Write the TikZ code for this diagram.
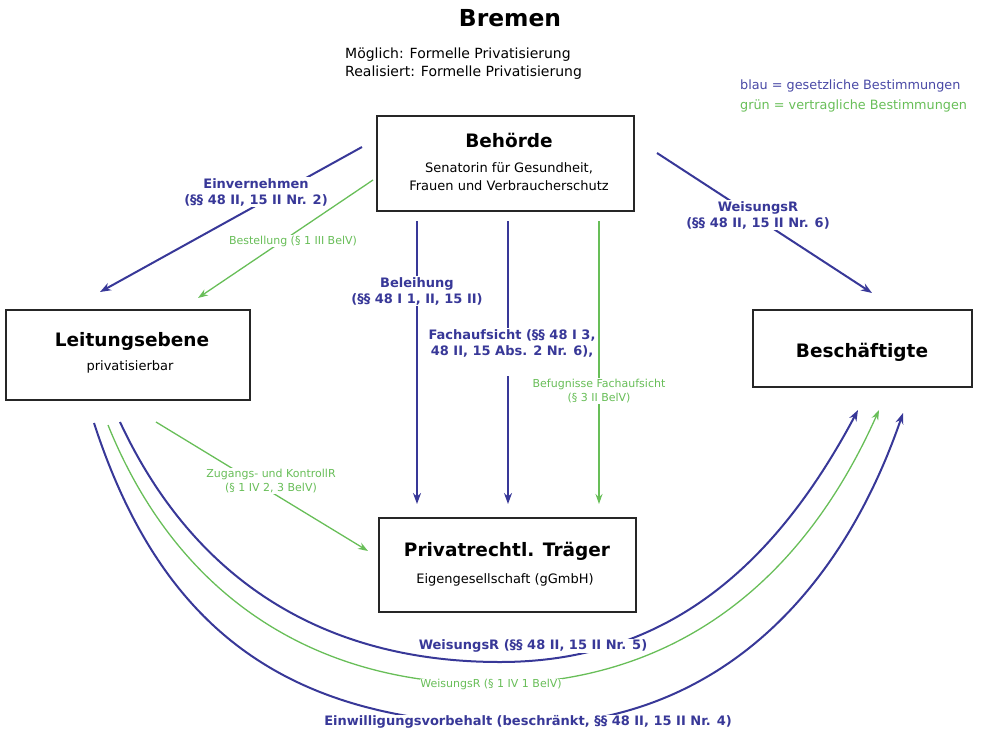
\documentclass[tikz,border=0pt]{standalone}
\usepackage{fontspec}
\setmainfont{DejaVu Sans}
\usetikzlibrary{arrows.meta}
\definecolor{lawblue}{RGB}{56,56,152}
\definecolor{legblue}{RGB}{72,72,165}
\definecolor{contractgreen}{RGB}{104,190,88}
\begin{document}
\begin{tikzpicture}[x=1pt,y=-1pt,
  box/.style={draw=black!85, line width=2pt, fill=white},
  blueline/.style={draw=lawblue, line width=2pt, -{Stealth[length=11pt,width=8pt]}},
  greenline/.style={draw=contractgreen, line width=1.3pt, -{Stealth[length=10pt,width=7pt]}},
  bluelab/.style={text=lawblue, font=\fontsize{13}{16}\selectfont\bfseries, align=center, fill=white, inner sep=1pt},
  greenlab/.style={text=contractgreen, font=\fontsize{11}{14}\selectfont, align=center, fill=white, inner sep=1pt},
  boxtitle/.style={font=\fontsize{18.5}{22}\selectfont\bfseries},
  boxsub/.style={font=\fontsize{13}{18}\selectfont, align=center},
]
\useasboundingbox (0,0) rectangle (992,733);

% title and header
\node[font=\fontsize{23.4}{28}\selectfont\bfseries] (ttl) at (510,18) {Bremen};
\node[anchor=west, font=\fontsize{14}{18}\selectfont, align=left, inner sep=0pt] (hdr) at (345,64)
  {Möglich: Formelle Privatisierung\\Realisiert: Formelle Privatisierung};
\node[anchor=west, font=\fontsize{12.8}{20}\selectfont, align=left, inner sep=0pt] (leg) at (740,96)
  {\textcolor{legblue}{blau = gesetzliche Bestimmungen}\\\textcolor{contractgreen}{grün = vertragliche Bestimmungen}};

% boxes
\node[box, minimum width=257pt, minimum height=95pt] (beh) at (505.5,163.5) {};
\node[boxtitle] (behT) at (509,140) {Behörde};
\node[boxsub] (behS) at (509,177) {Senatorin für Gesundheit,\\Frauen und Verbraucherschutz};

\node[box, minimum width=244pt, minimum height=90pt] (lei) at (128,355) {};
\node[boxtitle] (leiT) at (132,341) {Leitungsebene};
\node[boxsub] (leiS) at (130,367) {privatisierbar};

\node[box, minimum width=219pt, minimum height=77pt] (bes) at (862.5,348.5) {};
\node[boxtitle] (besT) at (862,352) {Beschäftigte};

\node[box, minimum width=257pt, minimum height=94pt] (pri) at (507.5,565) {};
\node[boxtitle] (priT) at (507,551) {Privatrechtl. Träger};
\node[boxsub] (priS) at (505,580) {Eigengesellschaft (gGmbH)};

% endpoints
\coordinate (a1) at (362,147); \coordinate (a2) at (100,292);
\coordinate (b1) at (373,180); \coordinate (b2) at (198,298);
\coordinate (c1) at (657,153); \coordinate (c2) at (872,293);
\coordinate (d1) at (417,221); \coordinate (d2) at (417,504);
\coordinate (e1) at (508,221); \coordinate (e2) at (508,504);
\coordinate (f1) at (599,221); \coordinate (f2) at (599,504);
\coordinate (g1) at (156,422); \coordinate (g2) at (368,551);
\coordinate (h1) at (120,422); \coordinate (hb) at (500,662); \coordinate (h2) at (858,410);
\coordinate (k1) at (108,425); \coordinate (kb) at (491,684); \coordinate (k2) at (879,410);
\coordinate (m1) at (94,423);  \coordinate (mb) at (522,725); \coordinate (m2) at (903,413);

% straight connectors
\draw[blueline] (a1) -- (a2);
\node[bluelab] (la) at (256,192) {Einvernehmen\\(§§ 48 II, 15 II Nr. 2)};
\draw[greenline] (b1) -- (b2);
\node[greenlab] (lb) at (293,241) {Bestellung (§ 1 III BelV)};
\draw[blueline] (c1) -- (c2);
\node[bluelab] (lc) at (758,215) {WeisungsR\\(§§ 48 II, 15 II Nr. 6)};
\draw[blueline] (d1) -- (d2);
\node[bluelab] (ld) at (417,291) {Beleihung\\(§§ 48 I 1, II, 15 II)};
\draw[blueline] (e1) -- (e2);
\node[bluelab, anchor=north] (le) at (512,328) {Fachaufsicht (§§ 48 I 3,\\48 II, 15 Abs. 2 Nr. 6),\\[4pt]\mbox{}};
\draw[greenline] (f1) -- (f2);
\node[greenlab] (lf) at (599,391) {Befugnisse Fachaufsicht\\(§ 3 II BelV)};
\draw[greenline] (g1) -- (g2);
\node[greenlab] (lg) at (271,481) {Zugangs- und KontrollR\\(§ 1 IV 2, 3 BelV)};

% arcs
\draw[blueline] (h1) to[out=-65,in=180] (hb) to[out=0,in=-118] (h2);
\node[bluelab] (lh) at (533,646) {WeisungsR (§§ 48 II, 15 II Nr. 5)};
\draw[greenline] (k1) to[out=-68,in=180] (kb) to[out=0,in=-114] (k2);
\node[greenlab, inner sep=0pt] (lk) at (491,684) {WeisungsR (§ 1 IV 1 BelV)};
\draw[blueline] (m1) to[out=-72,in=180,looseness=1.1] (mb) to[out=0,in=-109] (m2);
\node[bluelab] (lm) at (528,722) {Einwilligungsvorbehalt (beschränkt, §§ 48 II, 15 II Nr. 4)};
\end{tikzpicture}
\end{document}
